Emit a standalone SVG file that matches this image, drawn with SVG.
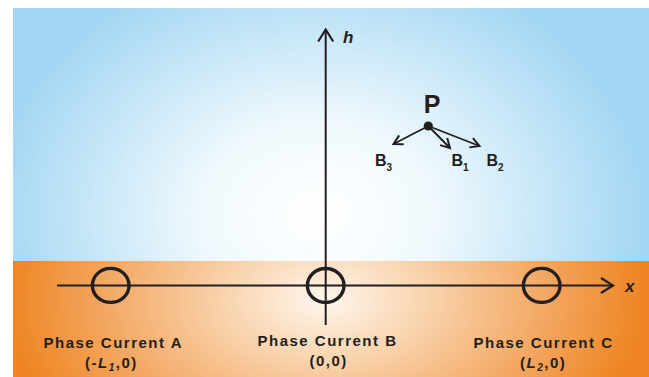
<svg xmlns="http://www.w3.org/2000/svg" width="649" height="377" viewBox="0 0 649 377">
<defs>
<radialGradient id="skyGrad" gradientUnits="userSpaceOnUse" cx="318" cy="215" r="330" gradientTransform="translate(318 215) scale(1 0.8) translate(-318 -215)">
<stop offset="0" stop-color="#ffffff"/>
<stop offset="0.35" stop-color="#f0f9fd"/>
<stop offset="1" stop-color="#a2d6f3"/>
</radialGradient>
<radialGradient id="groundGrad" gradientUnits="userSpaceOnUse" cx="325" cy="300" r="320" gradientTransform="translate(325 300) scale(1 0.6) translate(-325 -300)">
<stop offset="0" stop-color="#fef6ee"/>
<stop offset="0.3" stop-color="#f9d5b0"/>
<stop offset="0.7" stop-color="#f3a660"/>
<stop offset="1" stop-color="#ee8522"/>
</radialGradient>
<marker id="axisHead" markerUnits="userSpaceOnUse" viewBox="-15 -10 18 20" refX="0" refY="0" markerWidth="18" markerHeight="20" orient="auto" overflow="visible">
<path d="M -12 -7.5 L 0 0 L -12 7.5" fill="none" stroke="#231f20" stroke-width="2.2"/>
</marker>
<marker id="vecHead" markerUnits="userSpaceOnUse" viewBox="-12 -8 14 16" refX="0" refY="0" markerWidth="14" markerHeight="16" orient="auto" overflow="visible">
<path d="M -9 -5 L 0 0 L -9 5" fill="none" stroke="#231f20" stroke-width="2"/>
</marker>
<style>
.axis { stroke: #231f20; stroke-width: 2; fill: none; }
.vec { stroke: #231f20; stroke-width: 1.8; fill: none; }
.wire { fill: none; stroke: #231f20; stroke-width: 3.4; }
.lbl { font-family: "Liberation Sans", Arial, sans-serif; font-weight: bold; font-size: 15px; letter-spacing: 1.5px; fill: #231f20; }
.ax { font-family: "Liberation Sans", Arial, sans-serif; font-weight: bold; font-style: italic; font-size: 17px; fill: #231f20; }
.bl { font-family: "Liberation Sans", Arial, sans-serif; font-weight: bold; font-size: 16px; fill: #231f20; }
.sub { font-size: 10px; }
</style>
</defs>

<g id="background">
<rect x="13" y="8" width="636" height="253" fill="url(#skyGrad)"/>
<rect x="13" y="261" width="636" height="116" fill="url(#groundGrad)"/>
</g>

<g id="connectors">
<line id="x-axis" class="axis" x1="57" y1="285.5" x2="613" y2="285.5" marker-end="url(#axisHead)"/>
<line id="h-axis" class="axis" x1="325.7" y1="325" x2="325.7" y2="29.5" marker-end="url(#axisHead)"/>
<line id="vec-B3" class="vec" x1="428.3" y1="126" x2="393.5" y2="144" marker-end="url(#vecHead)"/>
<line id="vec-B1" class="vec" x1="428.3" y1="126" x2="450" y2="148" marker-end="url(#vecHead)"/>
<line id="vec-B2" class="vec" x1="428.3" y1="126" x2="479.5" y2="146" marker-end="url(#vecHead)"/>
</g>

<g id="axis-labels">
<text class="ax" x="343" y="42.5">h</text>
<text class="ax" x="625" y="292">x</text>
</g>

<g id="phase-A">
<ellipse class="wire" cx="110.7" cy="285.4" rx="18.3" ry="17"/>
<text class="lbl" x="43.5" y="347.5">Phase Current A</text>
<text class="lbl" x="85" y="367.5">(-<tspan font-style="italic">L</tspan><tspan class="sub" font-style="italic" dy="3">1</tspan><tspan dy="-3">,0)</tspan></text>
</g>

<g id="phase-B">
<ellipse class="wire" cx="325.7" cy="285.5" rx="18.3" ry="17"/>
<text class="lbl" x="257.5" y="345.8">Phase Current B</text>
<text class="lbl" x="309.5" y="365.8">(0,0)</text>
</g>

<g id="phase-C">
<ellipse class="wire" cx="541.7" cy="285.4" rx="18.3" ry="17"/>
<text class="lbl" x="473.5" y="347.5">Phase Current C</text>
<text class="lbl" x="520" y="367.5">(<tspan font-style="italic">L</tspan><tspan class="sub" font-style="italic" dy="3">2</tspan><tspan dy="-3">,0)</tspan></text>
</g>

<g id="point-P">
<circle cx="428.3" cy="126" r="4.6" fill="#231f20"/>
<text x="432" y="113.3" text-anchor="middle" font-family="'Liberation Sans', Arial, sans-serif" font-weight="bold" font-size="25" fill="#231f20">P</text>
</g>

<g id="label-B3">
<text class="bl" x="375" y="166">B<tspan class="sub" dy="4.5">3</tspan></text>
</g>
<g id="label-B1">
<text class="bl" x="451.5" y="166">B<tspan class="sub" dy="4.5">1</tspan></text>
</g>
<g id="label-B2">
<text class="bl" x="486.5" y="166">B<tspan class="sub" dy="4.5">2</tspan></text>
</g>
</svg>
